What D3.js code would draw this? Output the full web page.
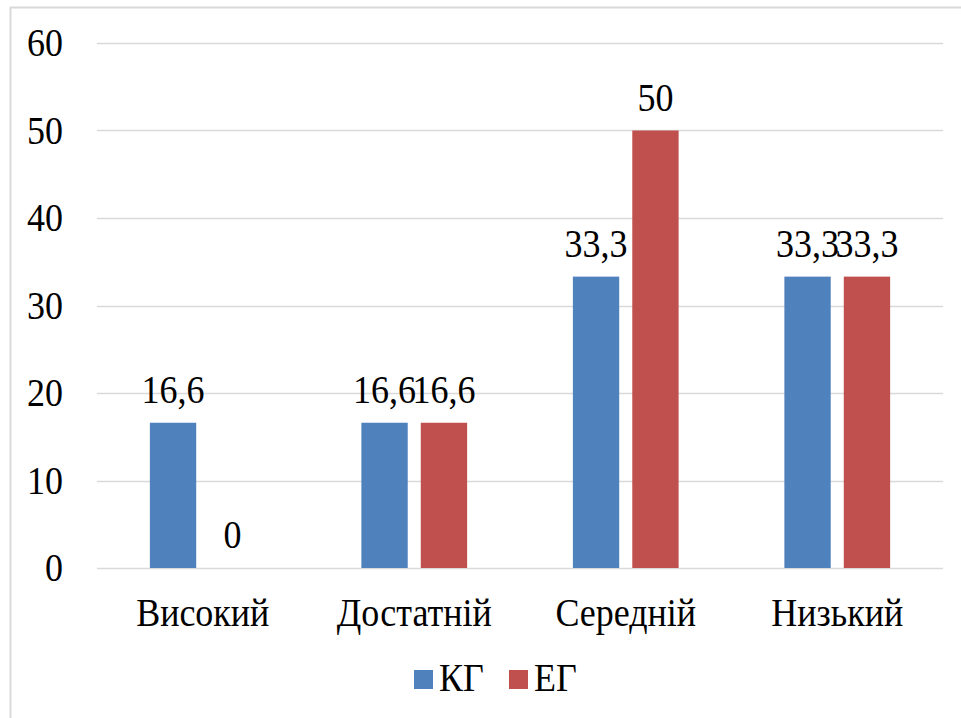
<!DOCTYPE html>
<html>
<head>
<meta charset="utf-8">
<script src="https://cdn.jsdelivr.net/npm/d3@7"></script>
</head>
<body>
<div id="chart"></div>
<script>
const WIDTH = 961;
const HEIGHT = 718;

const categories = ['Високий', 'Достатній', 'Середній', 'Низький'];
const series = ['КГ', 'ЕГ'];
const valuesKG = [16.6, 16.6, 33.3, 33.3];
const valuesEG = [0, 16.6, 50, 33.3];
const yTicks = [0, 10, 20, 30, 40, 50, 60];
const colors = ['#4f81bd', '#c0504d'];

const PLOT = {left: 97, right: 943, top: 43, bottom: 568};
const FONT = 'Times New Roman, Liberation Serif, Tinos, serif';
const FONTSIZE = 36;
const STRETCH = 1.09; // the reference type is a little taller than wide

d3.select('body').style('margin', '0px').style('background', '#fff');

let svg = d3.select('#chart').append('svg')
    .attr('width', WIDTH)
    .attr('height', HEIGHT)
    .style('display', 'block');

svg.append('rect')
    .attr('width', '100%')
    .attr('height', '100%')
    .attr('fill', '#fff');

// chart border (runs off the right and bottom of the picture)
svg.append('rect')
    .attr('x', 10.5)
    .attr('y', 7.5)
    .attr('width', WIDTH + 10)
    .attr('height', HEIGHT + 10)
    .attr('fill', 'none')
    .attr('stroke', '#d9d9d9')
    .attr('stroke-width', 2);

let y = d3.scaleLinear().domain([0, 60]).range([PLOT.bottom, PLOT.top]);
let x0 = d3.scaleBand().domain(categories).range([PLOT.left, PLOT.right]).padding(0);
let bw = x0.bandwidth();
let x1 = d3.scaleBand().domain(series).range([bw * 0.25, bw * 0.75]).paddingInner(0.22);

// gridlines
svg.append('g').selectAll('line')
    .data(yTicks)
    .join('line')
    .attr('x1', PLOT.left)
    .attr('x2', PLOT.right)
    .attr('y1', d => Math.round(y(d)) + 0.5)
    .attr('y2', d => Math.round(y(d)) + 0.5)
    .attr('stroke', '#d9d9d9')
    .attr('stroke-width', 1.5);

// font + vertical stretch around the text's own anchor point
function styleText(sel) {
    sel.attr('font-family', FONT)
        .attr('font-size', FONTSIZE)
        .attr('fill', '#000')
        .each(function() {
            let t = d3.select(this);
            let tx = +t.attr('x') || 0;
            let ty = +t.attr('y') || 0;
            t.attr('x', 0).attr('y', 0)
                .attr('transform', 'translate(' + tx + ',' + ty + ') scale(1,' + STRETCH + ')');
        });
}

// y axis labels
let yAxis = d3.axisLeft(y).tickValues(yTicks).tickSize(0).tickPadding(0);
let yg = svg.append('g')
    .attr('transform', 'translate(63,0)')
    .call(yAxis)
    .attr('font-family', FONT);
yg.select('.domain').remove();
yg.selectAll('text').call(styleText);

// x axis labels
let xAxis = d3.axisBottom(x0).tickSize(0).tickPadding(0);
let xg = svg.append('g')
    .attr('transform', 'translate(0,' + PLOT.bottom + ')')
    .call(xAxis)
    .attr('font-family', FONT);
xg.select('.domain').remove();
xg.selectAll('text')
    .attr('dy', null)
    .attr('y', 58)
    .call(styleText);

let rows = categories.map((c, i) => ({cat: c, vals: [valuesKG[i], valuesEG[i]]}));

let groups = svg.append('g').selectAll('g')
    .data(rows)
    .join('g')
    .attr('transform', d => 'translate(' + x0(d.cat) + ',0)');

groups.selectAll('rect')
    .data(d => d.vals.map((v, j) => ({s: series[j], v: v, j: j})))
    .join('rect')
    .attr('x', d => x1(d.s))
    .attr('y', d => y(d.v))
    .attr('width', x1.bandwidth())
    .attr('height', d => y(0) - y(d.v))
    .attr('fill', d => colors[d.j]);

groups.selectAll('text.lbl')
    .data(d => d.vals.map((v, j) => ({s: series[j], v: v})))
    .join('text')
    .attr('class', 'lbl')
    .attr('x', d => x1(d.s) + x1.bandwidth() / 2)
    .attr('y', d => y(d.v) - 20)
    .attr('text-anchor', 'middle')
    .text(d => String(d.v).replace('.', ','))
    .call(styleText);

// legend
let legend = svg.append('g').attr('transform', 'translate(414,691)');
let legendX = [0, 95];
series.forEach((s, i) => {
    legend.append('rect')
        .attr('x', legendX[i])
        .attr('y', -21)
        .attr('width', 19)
        .attr('height', 19)
        .attr('fill', colors[i]);
    legend.append('text')
        .attr('x', legendX[i] + 25)
        .attr('y', 0)
        .text(s)
        .call(styleText);
});
</script>
</body>
</html>
